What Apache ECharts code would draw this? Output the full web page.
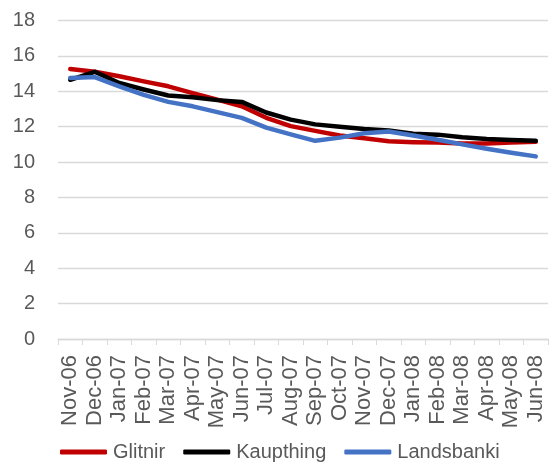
<!DOCTYPE html>
<html>
<head>
<meta charset="utf-8">
<script src="https://cdn.jsdelivr.net/npm/echarts@6/dist/echarts.min.js"></script>
<style>
  html, body { margin: 0; padding: 0; background: #fff; }
  #main { width: 554px; height: 464px; }
</style>
</head>
<body>
<div id="main"></div>
<script>
var months = ['Nov-06', 'Dec-06', 'Jan-07', 'Feb-07', 'Mar-07', 'Apr-07', 'May-07', 'Jun-07', 'Jul-07', 'Aug-07',
  'Sep-07', 'Oct-07', 'Nov-07', 'Dec-07', 'Jan-08', 'Feb-08', 'Mar-08', 'Apr-08', 'May-08', 'Jun-08'];
var glitnir = [15.26, 15.1, 14.85, 14.56, 14.28, 13.9, 13.53, 13.15, 12.5, 12.03,
  11.76, 11.5, 11.35, 11.17, 11.12, 11.1, 11.05, 11.05, 11.1, 11.15];
var kaupthing = [14.65, 15.1, 14.47, 14.1, 13.76, 13.66, 13.5, 13.4, 12.8, 12.4,
  12.13, 12.0, 11.87, 11.78, 11.6, 11.55, 11.4, 11.3, 11.25, 11.2];
var landsbanki = [14.75, 14.8, 14.28, 13.8, 13.4, 13.15, 12.82, 12.5, 11.95, 11.56,
  11.2, 11.38, 11.63, 11.73, 11.5, 11.26, 11.0, 10.75, 10.53, 10.32];

var chart = echarts.init(document.getElementById('main'));
var font = 'Liberation Sans';

function line(name, data, color) {
  return {
    name: name,
    type: 'line',
    data: data,
    showSymbol: false,
    lineStyle: { color: color, width: 4.5, cap: 'round', join: 'round' },
    itemStyle: { color: color }
  };
}

var option = {
  animation: false,
  grid: { left: 58, right: 6, top: 20.5, bottom: 125 },
  legend: {
    top: 437,
    left: 55,
    icon: 'roundRect',
    itemWidth: 47,
    itemHeight: 5,
    itemGap: 18,
    textStyle: { color: '#595959', fontSize: 20, fontFamily: font, padding: [0, 0, 0, 1] }
  },
  xAxis: {
    type: 'category',
    data: months,
    boundaryGap: true,
    axisLine: { lineStyle: { color: '#d9d9d9', width: 1.3 } },
    axisTick: { show: true, length: 6, lineStyle: { color: '#d9d9d9' } },
    axisLabel: {
      rotate: 90,
      interval: 0,
      margin: 16,
      color: '#595959',
      fontSize: 22,
      fontFamily: font,
      padding: [16, 0, 0, 0]
    }
  },
  yAxis: {
    type: 'value',
    min: 0,
    max: 18,
    interval: 2,
    axisLine: { show: false },
    axisTick: { show: false },
    splitLine: { lineStyle: { color: '#d9d9d9', width: 1.3 } },
    axisLabel: { margin: 23, color: '#595959', fontSize: 20, fontFamily: font }
  },
  series: [
    line('Glitnir', glitnir, '#C00000'),
    line('Kaupthing', kaupthing, '#000000'),
    line('Landsbanki', landsbanki, '#4472C4')
  ]
};

chart.setOption(option);
</script>
</body>
</html>
